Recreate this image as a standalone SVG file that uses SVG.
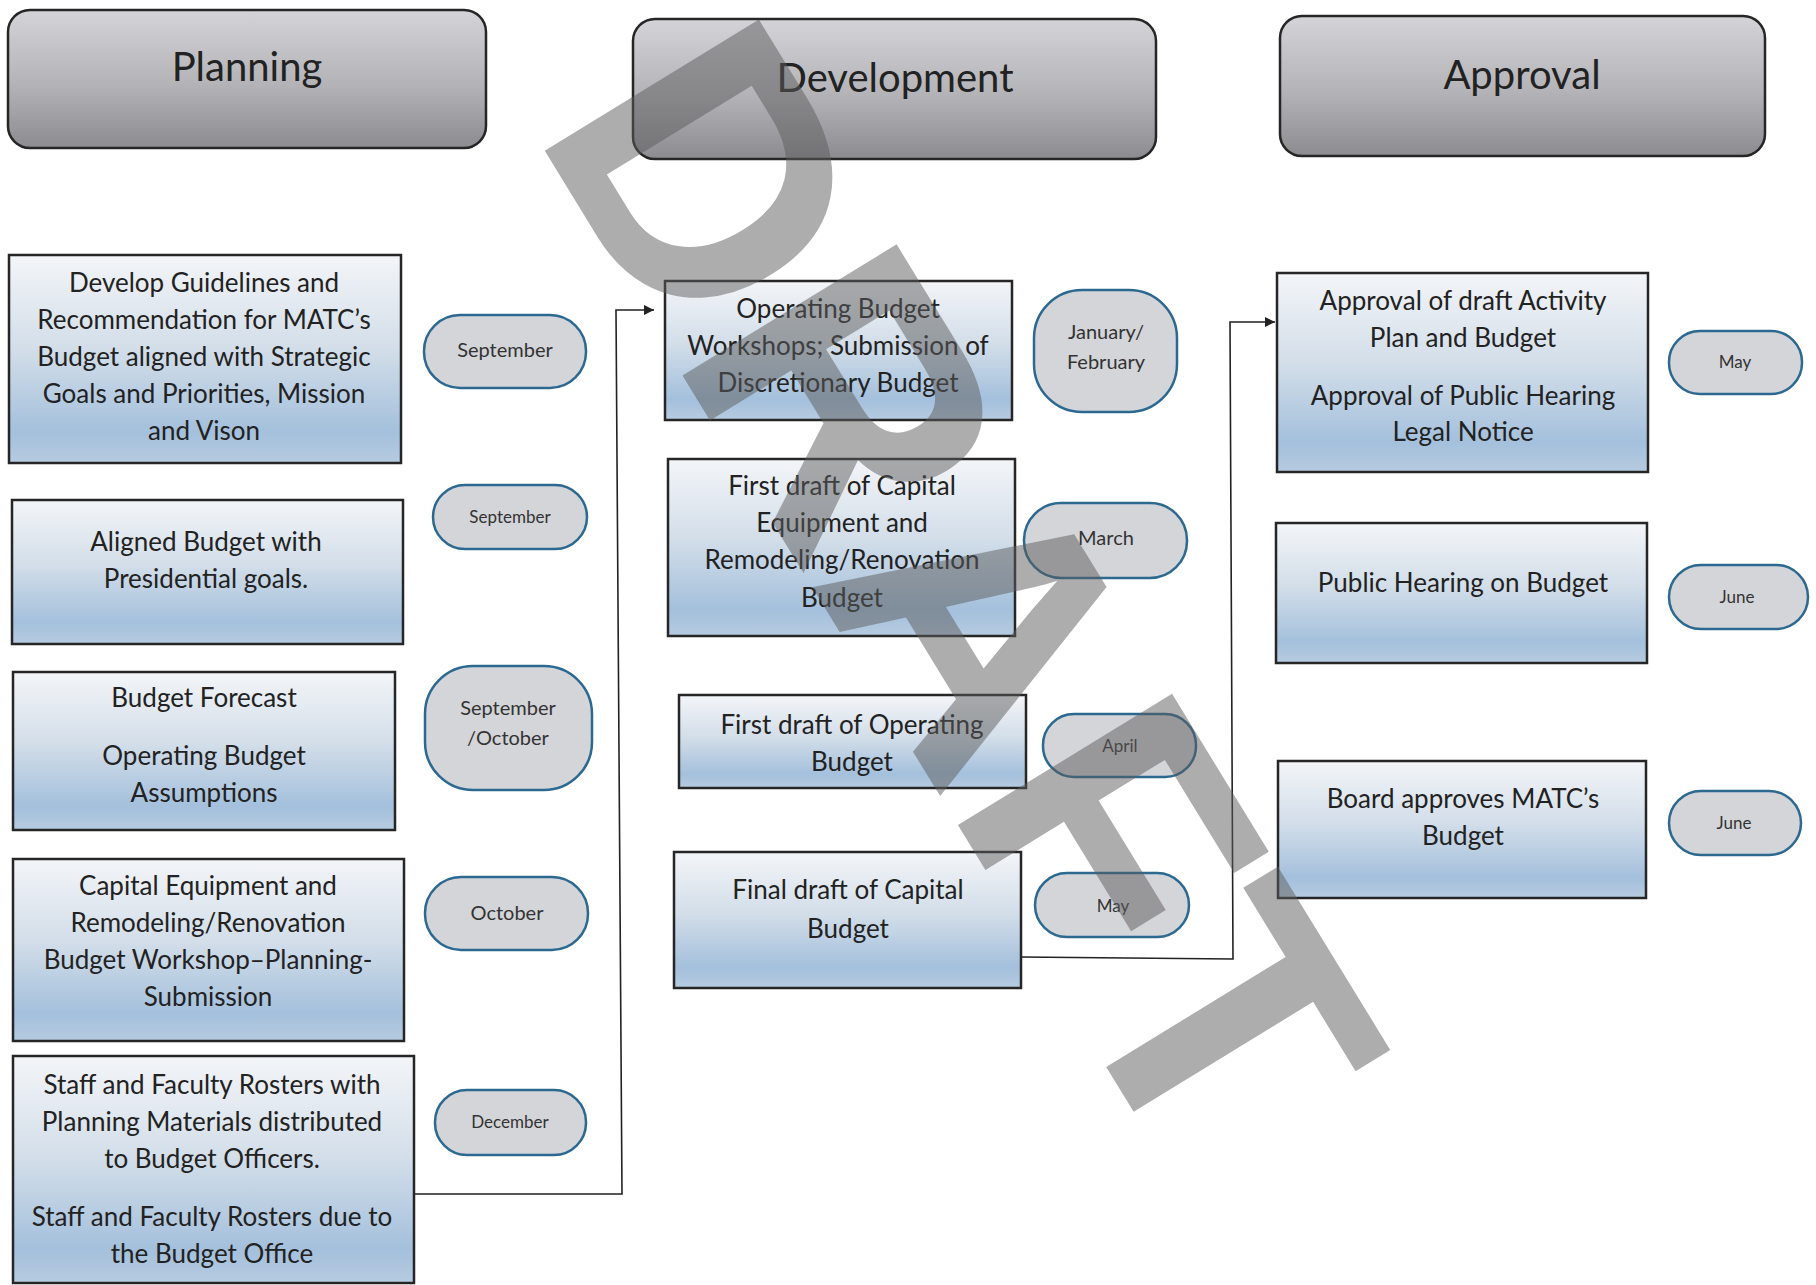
<svg xmlns="http://www.w3.org/2000/svg" width="1816" height="1285" viewBox="0 0 1816 1285">
<defs>
<linearGradient id="hdr" x1="0" y1="0" x2="0" y2="1">
<stop offset="0" stop-color="#d4d4d8"/>
<stop offset="0.55" stop-color="#b3b3b7"/>
<stop offset="1" stop-color="#8b8b90"/>
</linearGradient>
<linearGradient id="box" x1="0" y1="0" x2="0" y2="1">
<stop offset="0" stop-color="#f3f5f8"/>
<stop offset="0.45" stop-color="#d3dee9"/>
<stop offset="0.85" stop-color="#a4c0dc"/>
<stop offset="1" stop-color="#b6cbe0"/>
</linearGradient>
<marker id="arr" viewBox="0 0 10 10" refX="10" refY="5" markerWidth="10" markerHeight="10" markerUnits="userSpaceOnUse" orient="auto">
<path d="M0,0 L10,5 L0,10 z" fill="#222"/>
</marker>
<style>
.hdr{fill:url(#hdr);stroke:#262626;stroke-width:2.5}
.box{fill:url(#box);stroke:#262626;stroke-width:2.5}
.pill{fill:#d4d5d9;stroke:#2c6990;stroke-width:2.5}
.ht{font-family:Lato,"Liberation Sans",sans-serif;font-size:40px;fill:#222;text-anchor:middle}
.bt{font-family:Lato,"Liberation Sans",sans-serif;font-size:26px;fill:#222;text-anchor:middle}
.pt{font-family:Lato,"Liberation Sans",sans-serif;font-size:20px;fill:#333;text-anchor:middle}
.ps{font-family:Lato,"Liberation Sans",sans-serif;font-size:17px;fill:#333;text-anchor:middle}
.con{fill:none;stroke:#222;stroke-width:1.6}
.wm{font-family:"Liberation Sans",Arial,sans-serif;font-weight:bold;font-size:365px;fill:#5c5c5c;fill-opacity:0.5}
</style>
</defs>

<g id="hdr-planning"><rect class="hdr" x="8" y="10" width="478" height="138" rx="22"/><text class="ht" x="247" y="81">Planning</text></g>
<g id="hdr-development"><rect class="hdr" x="633" y="19" width="523" height="140" rx="22"/><text class="ht" x="895" y="92">Development</text></g>
<g id="hdr-approval"><rect class="hdr" x="1280" y="16" width="485" height="140" rx="22"/><text class="ht" x="1522" y="89">Approval</text></g>

<g id="connectors">
<polyline class="con" points="414,1194 622,1194 616,310 654,310" marker-end="url(#arr)"/>
<polyline class="con" points="1021,957 1233,959 1230,322 1275,322" marker-end="url(#arr)"/>
</g>

<g id="p1"><rect class="box" x="9" y="255" width="392" height="208"/>
<text class="bt" x="204" y="292">Develop Guidelines and</text>
<text class="bt" x="204" y="329">Recommendation for MATC’s</text>
<text class="bt" x="204" y="366">Budget aligned with Strategic</text>
<text class="bt" x="204" y="403">Goals and Priorities, Mission</text>
<text class="bt" x="204" y="440">and Vison</text></g>
<g id="p1m"><rect class="pill" x="424" y="315" width="162" height="73" rx="36"/><text class="pt" x="505" y="357">September</text></g>

<g id="p2"><rect class="box" x="12" y="500" width="391" height="144"/>
<text class="bt" x="206" y="551">Aligned Budget with</text>
<text class="bt" x="206" y="588">Presidential goals.</text></g>
<g id="p2m"><rect class="pill" x="433" y="485" width="154" height="64" rx="32"/><text class="ps" x="510" y="523">September</text></g>

<g id="p3"><rect class="box" x="13" y="672" width="382" height="158"/>
<text class="bt" x="204" y="707">Budget Forecast</text>
<text class="bt" x="204" y="765">Operating Budget</text>
<text class="bt" x="204" y="802">Assumptions</text></g>
<g id="p3m"><rect class="pill" x="425" y="666" width="167" height="124" rx="48"/><text class="pt" x="508" y="715">September</text><text class="pt" x="508" y="745">/October</text></g>

<g id="p4"><rect class="box" x="13" y="859" width="391" height="182"/>
<text class="bt" x="208" y="895">Capital Equipment and</text>
<text class="bt" x="208" y="932">Remodeling/Renovation</text>
<text class="bt" x="208" y="969">Budget Workshop–Planning-</text>
<text class="bt" x="208" y="1006">Submission</text></g>
<g id="p4m"><rect class="pill" x="425" y="877" width="163" height="73" rx="36"/><text class="pt" x="507" y="920">October</text></g>

<g id="p5"><rect class="box" x="13" y="1056" width="401" height="227"/>
<text class="bt" x="212" y="1094">Staff and Faculty Rosters with</text>
<text class="bt" x="212" y="1131">Planning Materials distributed</text>
<text class="bt" x="212" y="1168">to Budget Officers.</text>
<text class="bt" x="212" y="1226">Staff and Faculty Rosters due to</text>
<text class="bt" x="212" y="1263">the Budget Office</text></g>
<g id="p5m"><rect class="pill" x="435" y="1090" width="151" height="65" rx="32"/><text class="ps" x="510" y="1128">December</text></g>

<g id="d1"><rect class="box" x="665" y="281" width="347" height="139"/>
<text class="bt" x="838" y="318">Operating Budget</text>
<text class="bt" x="838" y="355">Workshops; Submission of</text>
<text class="bt" x="838" y="392">Discretionary Budget</text></g>
<g id="d1m"><rect class="pill" x="1034" y="290" width="143" height="122" rx="48"/><text class="pt" x="1106" y="339">January/</text><text class="pt" x="1106" y="369">February</text></g>

<g id="d2"><rect class="box" x="668" y="459" width="347" height="177"/>
<text class="bt" x="842" y="495">First draft of Capital</text>
<text class="bt" x="842" y="532">Equipment and</text>
<text class="bt" x="842" y="569">Remodeling/Renovation</text>
<text class="bt" x="842" y="607">Budget</text></g>
<g id="d2m"><rect class="pill" x="1024" y="503" width="163" height="75" rx="37"/><text class="pt" x="1106" y="545">March</text></g>

<g id="d3"><rect class="box" x="679" y="695" width="347" height="93"/>
<text class="bt" x="852" y="734">First draft of Operating</text>
<text class="bt" x="852" y="771">Budget</text></g>
<g id="d3m"><rect class="pill" x="1043" y="714" width="153" height="63" rx="31"/><text class="ps" x="1120" y="752">April</text></g>

<g id="d4"><rect class="box" x="674" y="852" width="347" height="136"/>
<text class="bt" x="848" y="899">Final draft of Capital</text>
<text class="bt" x="848" y="938">Budget</text></g>
<g id="d4m"><rect class="pill" x="1035" y="873" width="154" height="64" rx="32"/><text class="ps" x="1113" y="912">May</text></g>

<g id="a1"><rect class="box" x="1277" y="273" width="371" height="199"/>
<text class="bt" x="1463" y="310">Approval of draft Activity</text>
<text class="bt" x="1463" y="347">Plan and Budget</text>
<text class="bt" x="1463" y="405">Approval of Public Hearing</text>
<text class="bt" x="1463" y="441">Legal Notice</text></g>
<g id="a1m"><rect class="pill" x="1669" y="331" width="133" height="63" rx="31"/><text class="ps" x="1735" y="368">May</text></g>

<g id="a2"><rect class="box" x="1276" y="523" width="371" height="140"/>
<text class="bt" x="1463" y="592">Public Hearing on Budget</text></g>
<g id="a2m"><rect class="pill" x="1669" y="565" width="139" height="64" rx="32"/><text class="ps" x="1737" y="603">June</text></g>

<g id="a3"><rect class="box" x="1278" y="761" width="368" height="137"/>
<text class="bt" x="1463" y="808">Board approves MATC’s</text>
<text class="bt" x="1463" y="845">Budget</text></g>
<g id="a3m"><rect class="pill" x="1669" y="791" width="132" height="64" rx="32"/><text class="ps" x="1734" y="829">June</text></g>

<text class="wm" x="532" y="130" transform="rotate(58.5 532 130)">DRAFT</text>
</svg>
